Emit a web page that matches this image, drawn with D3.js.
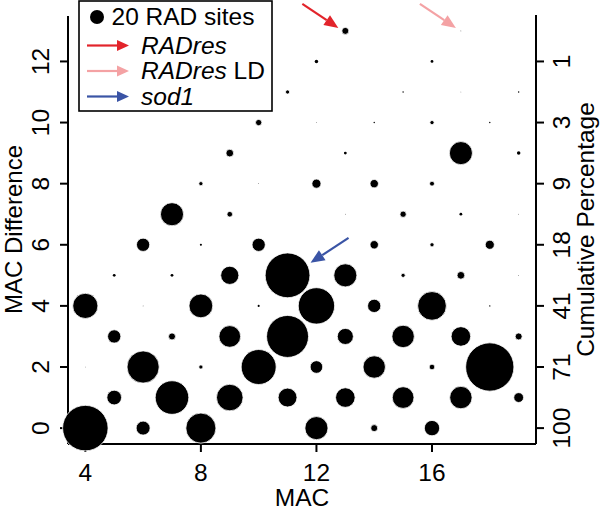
<!DOCTYPE html>
<html>
<head>
<meta charset="utf-8">
<script src="https://cdn.jsdelivr.net/npm/d3@7"></script>
<style>
  body { margin: 0; background: #fff; }
  svg { display: block; font-family: "Liberation Sans", Arial, sans-serif; }
</style>
</head>
<body>
<svg id="chart" width="602" height="512"></svg>
<script>
// one entry per grid cell: MAC, MAC difference, number of RAD sites
const macValues = [
  4, 6, 8, 12, 14, 16,
  5, 7, 9, 11, 13, 15, 17, 19,
  4, 6, 8, 10, 12, 14, 16, 18,
  5, 7, 9, 11, 13, 15, 17, 19,
  4, 6, 8, 10, 12, 14, 16, 18,
  5, 7, 9, 11, 13, 15, 17, 19,
  6, 8, 10, 14, 16, 18,
  7, 9, 13, 15, 17, 19,
  8, 10, 12, 14, 16,
  9, 13, 17, 19,
  10, 12, 14, 16, 18,
  11, 15, 17, 19,
  12, 16,
  13, 17
];
const diffValues = [
  0, 0, 0, 0, 0, 0,
  1, 1, 1, 1, 1, 1, 1, 1,
  2, 2, 2, 2, 2, 2, 2, 2,
  3, 3, 3, 3, 3, 3, 3, 3,
  4, 4, 4, 4, 4, 4, 4, 4,
  5, 5, 5, 5, 5, 5, 5, 5,
  6, 6, 6, 6, 6, 6,
  7, 7, 7, 7, 7, 7,
  8, 8, 8, 8, 8,
  9, 9, 9, 9,
  10, 10, 10, 10, 10,
  11, 11, 11, 11,
  12, 12,
  13, 13
];
const siteCounts = [
  65, 20, 43, 33, 10, 22,
  21, 48, 38, 27, 28, 31, 32, 14,
  1, 46, 6, 50, 18, 32, 8, 69,
  19, 10, 31, 60, 23, 32, 28, 10,
  36, 1, 34, 3, 52, 19, 41, 2,
  4, 4, 26, 64, 33, 6, 11, 1,
  19, 3, 19, 12, 6, 13,
  33, 8, 1, 9, 4, 1,
  6, 1, 13, 12, 7,
  11, 4, 33, 5,
  9, 1, 2, 6, 2,
  6, 2, 1, 2,
  5, 4,
  10, 1
];

const xTicks = [4, 8, 12, 16];
const yTicks = [0, 2, 4, 6, 8, 10, 12];
const cumPctLabels = ["100", "71", "41", "18", "9", "3", "1"];

const legendSites = 20;
const legendLabels = ["RADres", "RADres LD", "sod1"];
const arrowColours = ["#e2242b", "#f4a2a4", "#3a54a5"];
// which point each arrow marks
const arrowMac = [13, 17, 11];
const arrowDiff = [13, 13, 5];

const points = macValues.map((m, i) => ({ mac: m, diff: diffValues[i], sites: siteCounts[i] }));

const svg = d3.select("#chart");
const fontSize = 24.5;

const x = d3.scaleLinear().domain([3.4, 19.6]).range([68, 536]);
const y = d3.scaleLinear().domain([-0.52, 13.52]).range([444, 15]);
const r = d3.scaleLinear().domain([0, 20]).range([0, 7]);

const tickLen = 8;
const axes = svg.append("g").attr("stroke", "black").attr("stroke-width", 2).attr("fill", "none");

// left, bottom and right axis lines
axes.append("line").attr("x1", x.range()[0]).attr("x2", x.range()[0]).attr("y1", y.range()[1] + 1).attr("y2", y.range()[0]);
axes.append("line").attr("x1", x.range()[0]).attr("x2", x.range()[1]).attr("y1", y.range()[0]).attr("y2", y.range()[0]);
axes.append("line").attr("x1", x.range()[1]).attr("x2", x.range()[1]).attr("y1", y.range()[1]).attr("y2", y.range()[0]);

axes.selectAll(".xtick").data(xTicks).join("line")
  .attr("x1", d => x(d)).attr("x2", d => x(d))
  .attr("y1", y.range()[0]).attr("y2", y.range()[0] + tickLen);
axes.selectAll(".ytick").data(yTicks).join("line")
  .attr("x1", x.range()[0] - tickLen).attr("x2", x.range()[0])
  .attr("y1", d => y(d)).attr("y2", d => y(d));
axes.selectAll(".rtick").data(yTicks).join("line")
  .attr("x1", x.range()[1]).attr("x2", x.range()[1] + tickLen)
  .attr("y1", d => y(d)).attr("y2", d => y(d));

svg.selectAll(".xlab").data(xTicks).join("text")
  .attr("x", d => x(d)).attr("y", 481)
  .attr("text-anchor", "middle").attr("font-size", fontSize)
  .text(d => d);

svg.selectAll(".ylab").data(yTicks).join("text")
  .attr("transform", d => `translate(49,${y(d)}) rotate(-90)`)
  .attr("text-anchor", "middle").attr("font-size", fontSize)
  .text(d => d);

svg.selectAll(".rlab").data(yTicks).join("text")
  .attr("transform", d => `translate(570,${y(d)}) rotate(-90)`)
  .attr("text-anchor", "middle").attr("font-size", fontSize)
  .text((d, i) => cumPctLabels[i]);

const midY = (y.range()[0] + y.range()[1]) / 2;
svg.append("text").attr("x", (x.range()[0] + x.range()[1]) / 2).attr("y", 506)
  .attr("text-anchor", "middle").attr("font-size", fontSize).text("MAC");
svg.append("text").attr("transform", `translate(22,${midY}) rotate(-90)`)
  .attr("text-anchor", "middle").attr("font-size", 24).text("MAC Difference");
svg.append("text").attr("transform", `translate(594,${midY}) rotate(-90)`)
  .attr("text-anchor", "middle").attr("font-size", fontSize).text("Cumulative Percentage");

// bubbles
svg.append("g").selectAll("circle").data(points).join("circle")
  .attr("cx", d => x(d.mac))
  .attr("cy", d => y(d.diff))
  .attr("r", d => r(d.sites))
  .attr("fill", "black")
  .attr("stroke", d => r(d.sites) > 2 ? "white" : "none")
  .attr("stroke-width", 0.8);

// arrow with a filled head; (x1,y1) tail, (x2,y2) tip
const drawArrow = (g, x1, y1, x2, y2, colour, headLen, headHalf) => {
  const a = Math.atan2(y2 - y1, x2 - x1);
  const bx = x2 - headLen * Math.cos(a), by = y2 - headLen * Math.sin(a);
  g.append("line").attr("x1", x1).attr("y1", y1).attr("x2", bx).attr("y2", by)
    .attr("stroke", colour).attr("stroke-width", 2.2);
  const px = -Math.sin(a) * headHalf, py = Math.cos(a) * headHalf;
  g.append("path")
    .attr("d", `M${x2},${y2}L${bx + px},${by + py}L${bx - px},${by - py}Z`)
    .attr("fill", colour);
};

// annotation arrows: tip and tail offsets from the marked point
const tipOffsets = [[-7, -3], [-5, -3], [23, -12.5]];
const tailOffsets = [[-43, -27], [-41, -27], [61, -37.5]];
const ann = svg.append("g");
arrowMac.forEach((m, i) => {
  const cx = x(m), cy = y(arrowDiff[i]);
  drawArrow(ann, cx + tailOffsets[i][0], cy + tailOffsets[i][1],
    cx + tipOffsets[i][0], cy + tipOffsets[i][1], arrowColours[i], 14, 6);
});

// legend
const lg = svg.append("g");
lg.append("rect").attr("x", 79).attr("y", 1).attr("width", 193).attr("height", 110)
  .attr("fill", "white").attr("stroke", "black").attr("stroke-width", 1.6);
lg.append("circle").attr("cx", 97).attr("cy", 17).attr("r", r(legendSites)).attr("fill", "black");
lg.append("text").attr("x", 111.5).attr("y", 25).attr("font-size", fontSize).text(`${legendSites} RAD sites`);

const rowY = [45.5, 71, 96.5];
legendLabels.forEach((lab, i) => {
  drawArrow(lg, 87, rowY[i], 129, rowY[i], arrowColours[i], 12, 5.5);
  const t = lg.append("text").attr("x", 141).attr("y", rowY[i] + 8).attr("font-size", fontSize);
  if (lab === "RADres LD") {
    t.append("tspan").attr("font-style", "italic").text("RADres");
    t.append("tspan").text(" LD");
  } else {
    t.append("tspan").attr("font-style", "italic").text(lab);
  }
});
</script>
</body>
</html>
